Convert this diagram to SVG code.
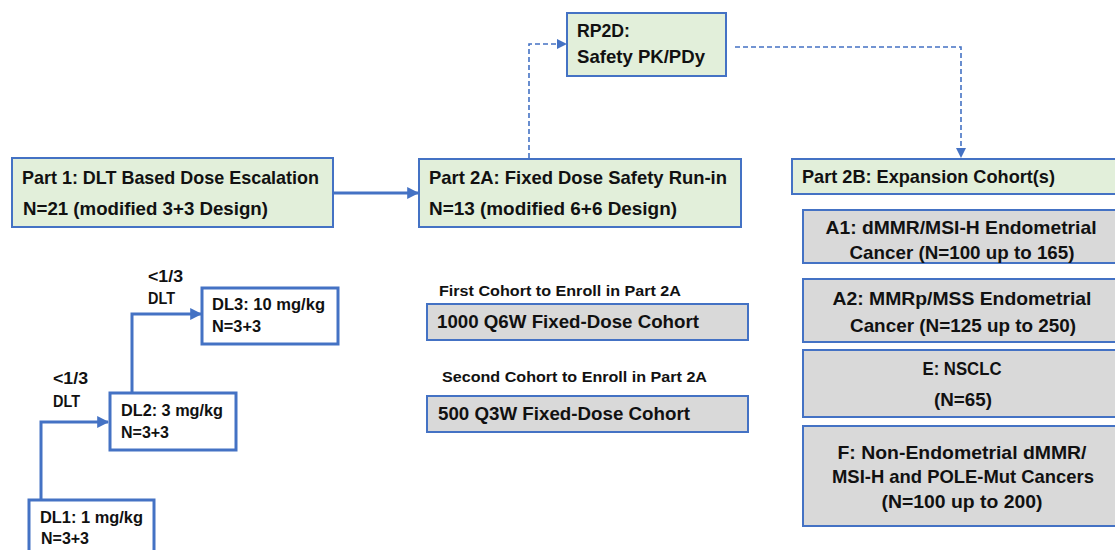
<svg xmlns="http://www.w3.org/2000/svg" width="1115" height="550" viewBox="0 0 1115 550">
  <defs>
    <style>
      text { font-family: "Liberation Sans", Arial, sans-serif; font-weight: bold; fill: #111; }
      .t18 { font-size: 19px; }
      .t17 { font-size: 18px; }
      .t15 { font-size: 16px; }
      .t14 { font-size: 15px; }
      .mid { text-anchor: middle; }
      .green { fill: #e2efda; stroke: #4472c4; stroke-width: 2; }
      .gray { fill: #d9d9d9; stroke: #4472c4; stroke-width: 2; }
      .dl { fill: #ffffff; stroke: #4472c4; stroke-width: 3; }
      .solid { fill: none; stroke: #4472c4; stroke-width: 3; }
      .dash { fill: none; stroke: #4472c4; stroke-width: 1.6; stroke-dasharray: 5 3; }
    </style>
    <marker id="arrow" viewBox="0 0 10 10" refX="9" refY="5" markerWidth="4" markerHeight="4" orient="auto" markerUnits="strokeWidth">
      <path d="M0,0 L10,5 L0,10 z" fill="#4472c4"/>
    </marker>
    <marker id="arrowThin" viewBox="0 0 10 10" refX="9" refY="5" markerWidth="6.5" markerHeight="6.5" orient="auto" markerUnits="strokeWidth">
      <path d="M0,0 L10,5 L0,10 z" fill="#4472c4"/>
    </marker>
  </defs>

  <!-- connectors -->
  <g id="connectors">
    <path class="solid" d="M334,193 L418,193" marker-end="url(#arrow)"/>
    <path class="dash" d="M529,158 L529,44 L566,44" marker-end="url(#arrowThin)"/>
    <path class="dash" d="M735,47 L961,47 L961,157" marker-end="url(#arrowThin)"/>
    <path class="solid" d="M41,500 L41,422 L108,422" marker-end="url(#arrow)"/>
    <path class="solid" d="M132,393 L132,314 L201,314" marker-end="url(#arrow)"/>
  </g>

  <!-- Part 1 -->
  <g id="part1">
    <rect class="green" x="12" y="158" width="321" height="69"/>
    <text class="t18" x="22" y="184" textLength="297" lengthAdjust="spacingAndGlyphs">Part 1: DLT Based Dose Escalation</text>
    <text class="t18" x="23" y="215" textLength="245" lengthAdjust="spacingAndGlyphs">N=21 (modified 3+3 Design)</text>
  </g>

  <!-- Part 2A -->
  <g id="part2a">
    <rect class="green" x="419" y="159" width="322" height="68"/>
    <text class="t18" x="429" y="184" textLength="298" lengthAdjust="spacingAndGlyphs">Part 2A: Fixed Dose Safety Run-in</text>
    <text class="t18" x="429" y="215" textLength="248" lengthAdjust="spacingAndGlyphs">N=13 (modified 6+6 Design)</text>
  </g>

  <!-- RP2D -->
  <g id="rp2d">
    <rect class="green" x="567" y="13" width="159" height="63"/>
    <text class="t18" x="577" y="37" textLength="53" lengthAdjust="spacingAndGlyphs">RP2D:</text>
    <text class="t18" x="577" y="63" textLength="128" lengthAdjust="spacingAndGlyphs">Safety PK/PDy</text>
  </g>

  <!-- Part 2B -->
  <g id="part2b">
    <rect class="green" x="792" y="159" width="330" height="35"/>
    <text class="t18" x="802" y="183" textLength="253" lengthAdjust="spacingAndGlyphs">Part 2B: Expansion Cohort(s)</text>
  </g>

  <!-- Expansion cohorts -->
  <g id="cohortA1">
    <rect class="gray" x="803" y="210" width="320" height="53"/>
    <text class="t18 mid" x="961" y="234" textLength="271" lengthAdjust="spacingAndGlyphs">A1: dMMR/MSI-H Endometrial</text>
    <text class="t18 mid" x="962" y="259" textLength="225" lengthAdjust="spacingAndGlyphs">Cancer (N=100 up to 165)</text>
  </g>
  <g id="cohortA2">
    <rect class="gray" x="803" y="279" width="320" height="63"/>
    <text class="t18 mid" x="962" y="305" textLength="259" lengthAdjust="spacingAndGlyphs">A2: MMRp/MSS Endometrial</text>
    <text class="t18 mid" x="963" y="332" textLength="226" lengthAdjust="spacingAndGlyphs">Cancer (N=125 up to 250)</text>
  </g>
  <g id="cohortE">
    <rect class="gray" x="803" y="350" width="320" height="67"/>
    <text class="t18 mid" x="962" y="375" textLength="79" lengthAdjust="spacingAndGlyphs">E: NSCLC</text>
    <text class="t18 mid" x="963" y="406" textLength="58" lengthAdjust="spacingAndGlyphs">(N=65)</text>
  </g>
  <g id="cohortF">
    <rect class="gray" x="803" y="426" width="320" height="100"/>
    <text class="t18 mid" x="962" y="459" textLength="249" lengthAdjust="spacingAndGlyphs">F: Non-Endometrial dMMR/</text>
    <text class="t18 mid" x="963" y="483" textLength="262" lengthAdjust="spacingAndGlyphs">MSI-H and POLE-Mut Cancers</text>
    <text class="t18 mid" x="962" y="508" textLength="161" lengthAdjust="spacingAndGlyphs">(N=100 up to 200)</text>
  </g>

  <!-- Part 2A cohorts -->
  <g id="firstCohort">
    <text class="t14" x="439" y="296" textLength="242" lengthAdjust="spacingAndGlyphs">First Cohort to Enroll in Part 2A</text>
    <rect class="gray" x="427" y="304" width="321" height="36"/>
    <text class="t17" x="437" y="328" textLength="262" lengthAdjust="spacingAndGlyphs">1000 Q6W Fixed-Dose Cohort</text>
  </g>
  <g id="secondCohort">
    <text class="t14" x="442" y="382" textLength="265" lengthAdjust="spacingAndGlyphs">Second Cohort to Enroll in Part 2A</text>
    <rect class="gray" x="427" y="396" width="321" height="36"/>
    <text class="t17" x="438" y="420" textLength="252" lengthAdjust="spacingAndGlyphs">500 Q3W Fixed-Dose Cohort</text>
  </g>

  <!-- Dose levels -->
  <g id="dl1">
    <rect class="dl" x="29" y="500" width="125" height="60"/>
    <text class="t15" x="40" y="523" textLength="103" lengthAdjust="spacingAndGlyphs">DL1: 1 mg/kg</text>
    <text class="t15" x="41" y="544" textLength="48" lengthAdjust="spacingAndGlyphs">N=3+3</text>
  </g>
  <g id="dl2">
    <rect class="dl" x="110" y="393" width="126" height="57"/>
    <text class="t15" x="121" y="416" textLength="102" lengthAdjust="spacingAndGlyphs">DL2: 3 mg/kg</text>
    <text class="t15" x="121" y="438" textLength="48" lengthAdjust="spacingAndGlyphs">N=3+3</text>
  </g>
  <g id="dl3">
    <rect class="dl" x="202" y="288" width="136" height="56"/>
    <text class="t15" x="212" y="310" textLength="113" lengthAdjust="spacingAndGlyphs">DL3: 10 mg/kg</text>
    <text class="t15" x="212" y="332" textLength="49" lengthAdjust="spacingAndGlyphs">N=3+3</text>
  </g>

  <!-- escalation criteria -->
  <g id="criteria">
    <text class="t15" x="53" y="384" textLength="35" lengthAdjust="spacingAndGlyphs">&lt;1/3</text>
    <text class="t15" x="53" y="407" textLength="27" lengthAdjust="spacingAndGlyphs">DLT</text>
    <text class="t15" x="148" y="282" textLength="35" lengthAdjust="spacingAndGlyphs">&lt;1/3</text>
    <text class="t15" x="148" y="304" textLength="27" lengthAdjust="spacingAndGlyphs">DLT</text>
  </g>
</svg>
